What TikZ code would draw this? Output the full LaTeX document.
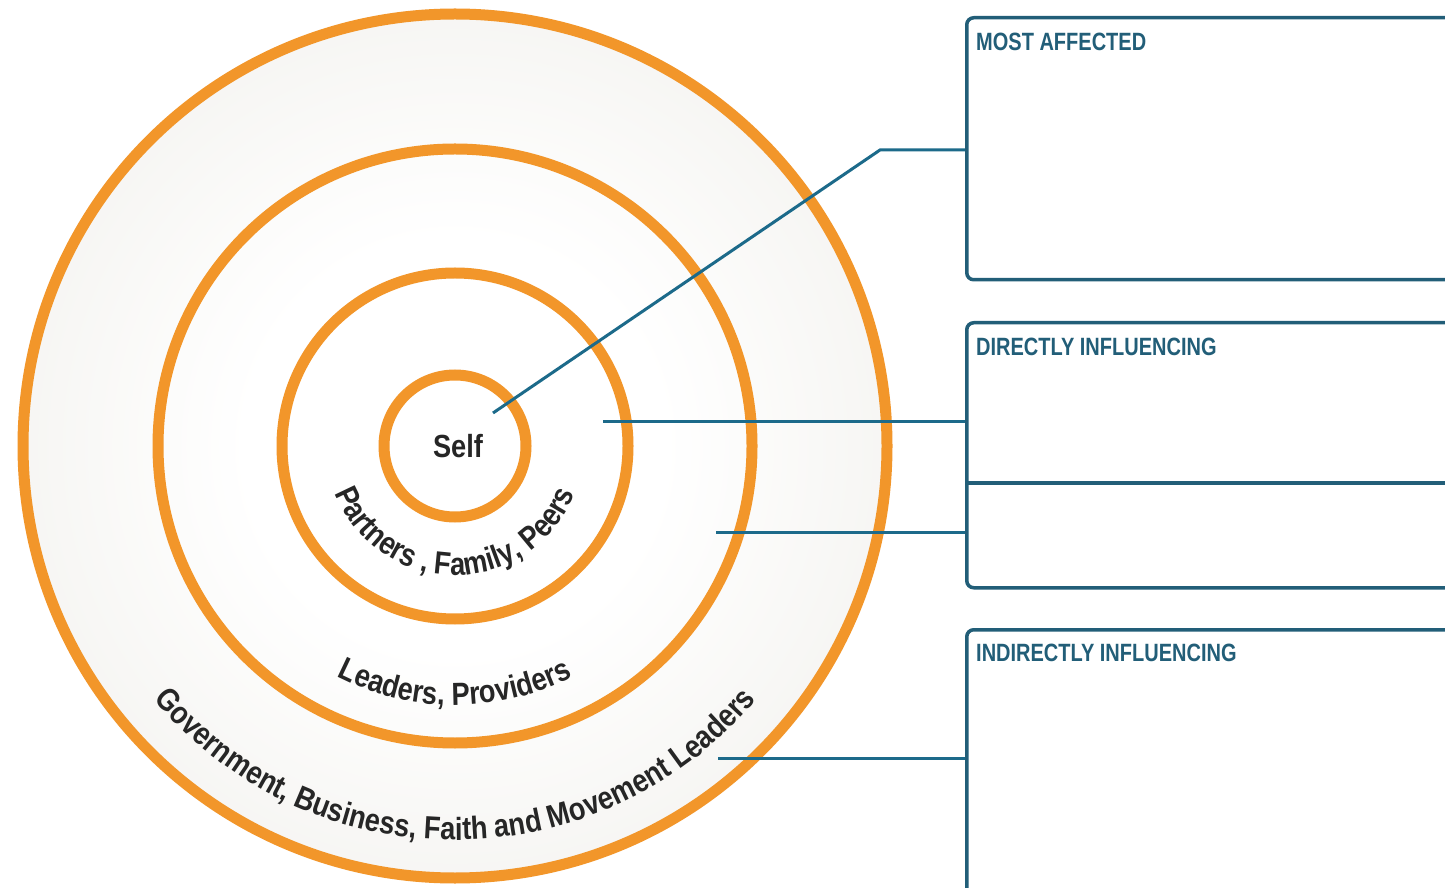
\documentclass[tikz,border=0pt]{standalone}
\usepackage{fontspec}
\usetikzlibrary{decorations.text}
\newfontfamily\ringfont[FakeStretch=0.85]{Liberation Sans}
\newfontfamily\panelfont[FakeStretch=0.8]{Liberation Sans}
\newcommand\ringtextfont{\ringfont\bfseries\fontsize{32}{38}\selectfont}
\definecolor{ringorange}{RGB}{242,150,42}
\definecolor{panelblue}{RGB}{34,94,120}
\definecolor{linkblue}{RGB}{28,106,138}
\definecolor{ringink}{RGB}{38,38,38}
\definecolor{diskmid}{RGB}{242,241,237}
\definecolor{diskedge}{RGB}{222,219,211}
\pgfdeclareradialshading{disk}{\pgfpoint{0bp}{0bp}}{color(0bp)=(white); color(12bp)=(white); color(32bp)=(diskmid); color(50bp)=(diskedge); color(100bp)=(diskedge)}

\begin{document}
\begin{tikzpicture}[
x=1pt, y=1pt,
ring/.style={
  draw=ringorange,
  line width=11pt
  },
ringwords/.style={
  decorate,
  decoration={text along path, text align=center, text color=ringink}
  },
panel/.style={
  draw=panelblue,
  line width=3.5pt,
  rounded corners=7pt,
  fill=white,
  anchor=north west,
  inner sep=0pt,
  minimum width=520pt
  },
paneltitle/.style={
  anchor=base west,
  inner sep=0pt,
  text=panelblue,
  font=\panelfont\bfseries\fontsize{25}{29}\selectfont
  },
link/.style={
  draw=linkblue,
  line width=3pt
  }
]
\useasboundingbox (0,0) rectangle (1445,887);
\clip (0,0) rectangle (1445,887);
\fill[white] (0,0) rectangle (1445,887);

% target rings
\coordinate (c) at (455,441);
\shade[shading=disk] (c) circle[radius=432pt];
\foreach \r in {432,297,173,71}
  \draw[ring] (c) circle[radius=\r pt];

\node[text=ringink, font=\ringtextfont] (self) at ([xshift=3pt]c) {Self};
\path[ringwords, decoration={text={|\ringtextfont|Partners , Family, Peers}}]
  ([shift={(c)}]180:129pt) arc[start angle=180, end angle=360, radius=129pt];
\path[ringwords, decoration={text={|\ringtextfont|Leaders, Providers}}]
  ([shift={(c)}]180:259pt) arc[start angle=180, end angle=360, radius=259pt];
\path[ringwords, decoration={text={|\ringtextfont|Government, Business, Faith and Movement Leaders}}]
  ([shift={(c)}]180:394pt) arc[start angle=180, end angle=360, radius=394pt];

% panels
\node[panel, minimum height=262pt] (most) at (965,871) {};
\node[panel, minimum height=265pt] (direct) at (965,566) {};
\node[panel, minimum height=300pt] (indirect) at (965,259) {};
\coordinate (split) at (965,404);
\draw[draw=panelblue, line width=3.5pt] (split) -- (split -| direct.east);

\node[paneltitle] (mosttitle) at ([shift={(11pt,-35pt)}]most.north west) {MOST AFFECTED};
\node[paneltitle] (directtitle) at ([shift={(11pt,-35pt)}]direct.north west) {DIRECTLY INFLUENCING};
\node[paneltitle] (indirecttitle) at ([shift={(11pt,-33pt)}]indirect.north west) {INDIRECTLY INFLUENCING};

% connectors
\coordinate (selftip) at (493,474);
\coordinate (kink) at (880,737);
\coordinate (peerspt) at (603,465);
\coordinate (leaderspt) at (716,354);
\coordinate (govpt) at (718,129);
\draw[link] (selftip) -- (kink) -- (kink -| most.west);
\draw[link] (peerspt) -- (peerspt -| direct.west);
\draw[link] (leaderspt) -- (leaderspt -| direct.west);
\draw[link] (govpt) -- (govpt -| indirect.west);

\end{tikzpicture}
\end{document}
